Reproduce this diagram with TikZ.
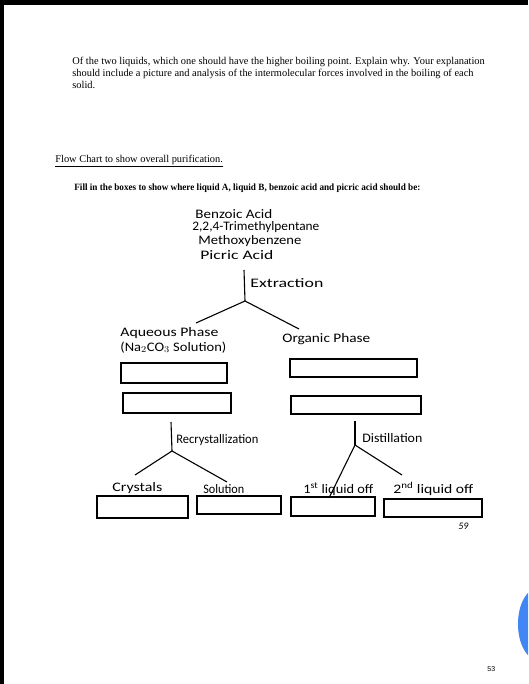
\documentclass[tikz,border=0pt]{standalone}
\usepackage{fontspec}
\usepackage{graphicx}
\setmainfont{Liberation Serif}
\newfontfamily\handfont{Carlito}
\newfontfamily\pagefont{Liberation Sans}
\usetikzlibrary{positioning}
\tikzset{every picture/.style={line width=0.75pt}}
\definecolor{scrollblue}{RGB}{66,133,244}
% handwriting squeezed to a given width
\newcommand\handw[2]{\resizebox{#1pt}{\height}{#2}}
\tikzset{
  hand/.style={font=\handfont\fontsize{13}{14}\selectfont, inner sep=0pt, anchor=base west},
  print/.style={font=\fontsize{10.4}{11.8}\selectfont, inner sep=0pt, anchor=base west},
  ansbox/.style={draw, line width=1.1pt, inner sep=0pt},
  branch/.style={line width=1.1pt}
}

\begin{document}
\begin{tikzpicture}[x=1pt,y=-1pt]
    \useasboundingbox (0,0) rectangle (528,684);
    \fill[white] (0,0) rectangle (528,684);
    % === page frame ===
    \fill[black] (0,0) rectangle (528,5);
    \fill[black] (0,0) rectangle (4,684);
    \begin{scope}
      \clip (0,0) rectangle (528,684);
      \fill[scrollblue] (538,624) ellipse (20 and 36);
    \end{scope}

    % === printed text ===
    \node[print, align=left, anchor=north west] (question) at (72,57)
      {Of the two liquids, which one should have the higher boiling point. Explain why. Your explanation\\
       should include a picture and analysis of the intermolecular forces involved in the boiling of each\\
       solid.};
    \node[print] (title) at (55,163) {\underline{Flow Chart to show overall purification.}};
    \node[print, font=\bfseries\fontsize{9.6}{11}\selectfont] (task) at (74,191)
      {\resizebox{346pt}{\height}{Fill in the boxes to show where liquid A, liquid B, benzoic acid and picric acid should be:}};

    % === starting mixture ===
    \node[hand] (benz) at (195,219) {\handw{77}{Benzoic Acid}};
    \node[hand] (tmp) at (192,231) {\handw{127}{2,2,4-Trimethylpentane}};
    \node[hand] (meth) at (198,245) {\handw{103}{Methoxybenzene}};
    \node[hand] (picr) at (200,259) {\handw{73}{Picric Acid}};

    % === extraction ===
    \coordinate (ex0) at (244,270);
    \coordinate (ex1) at (245,301);
    \coordinate (exl) at (196,323);
    \coordinate (exr) at (299,329);
    \draw[branch] (ex0) -- (ex1);
    \draw[branch] (ex1) -- (exl);
    \draw[branch] (ex1) -- (exr);
    \node[hand] (extr) at (250,287) {\handw{73}{Extraction}};

    \node[hand] (aqu) at (120,336) {\handw{98}{Aqueous Phase}};
    \node[hand] (aqsol) at (120,351) {\handw{106}{(Na$_2$CO$_3$ Solution)}};
    \node[hand] (org) at (282,342) {\handw{88}{Organic Phase}};

    \node[ansbox, minimum width=106pt, minimum height=20pt] (aq1) at (174,373) {};
    \node[ansbox, minimum width=108pt, minimum height=20pt] (aq2) at (177,403) {};
    \node[ansbox, minimum width=127pt, minimum height=18pt] (org1) at (353.5,368) {};
    \node[ansbox, minimum width=130pt, minimum height=18pt] (org2) at (356,405) {};

    % === recrystallization ===
    \coordinate (rc0) at (171,422);
    \coordinate (rc1) at (172,451);
    \coordinate (rcl) at (135,475);
    \coordinate (rcr) at (227,482);
    \draw[branch] (rc0) -- (rc1);
    \draw[branch] (rc1) -- (rcl);
    \draw[branch] (rc1) -- (rcr);
    \node[hand] (recr) at (176,443) {\handw{82}{Recrystallization}};
    \node[hand] (cry) at (112,491) {\handw{50}{Crystals}};
    \node[hand] (sol) at (203,493) {\handw{41}{Solution}};

    % === distillation ===
    \coordinate (ds0) at (355,421);
    \coordinate (ds1) at (355,445);
    \coordinate (dsl) at (329,498);
    \coordinate (dsr) at (402,475);
    \draw[branch] (ds0) -- (ds1);
    \draw[branch] (ds1) -- (dsl);
    \draw[branch] (ds1) -- (dsr);
    \node[hand] (dist) at (362,442) {\handw{60}{Distillation}};
    \node[hand] (liq1) at (303,493) {\handw{70}{1\textsuperscript{st} liquid off}};
    \node[hand] (liq2) at (393,493) {\handw{80}{2\textsuperscript{nd} liquid off}};

    % bottom boxes
    \node[ansbox, minimum width=91pt, minimum height=22pt] (crybox) at (142.5,507) {};
    \node[ansbox, minimum width=84pt, minimum height=18pt] (solbox) at (239,505) {};
    \node[ansbox, minimum width=84pt, minimum height=19pt] (liq1box) at (333,506.5) {};
    \node[ansbox, minimum width=98pt, minimum height=18pt] (liq2box) at (433,508) {};

    % page numbers
    \node[hand, font=\handfont\itshape\fontsize{10}{11}\selectfont] (hpage) at (458,529) {59};
    \node[print, font=\pagefont\fontsize{7}{8}\selectfont] (page) at (487,671) {53};
\end{tikzpicture}
\end{document}
